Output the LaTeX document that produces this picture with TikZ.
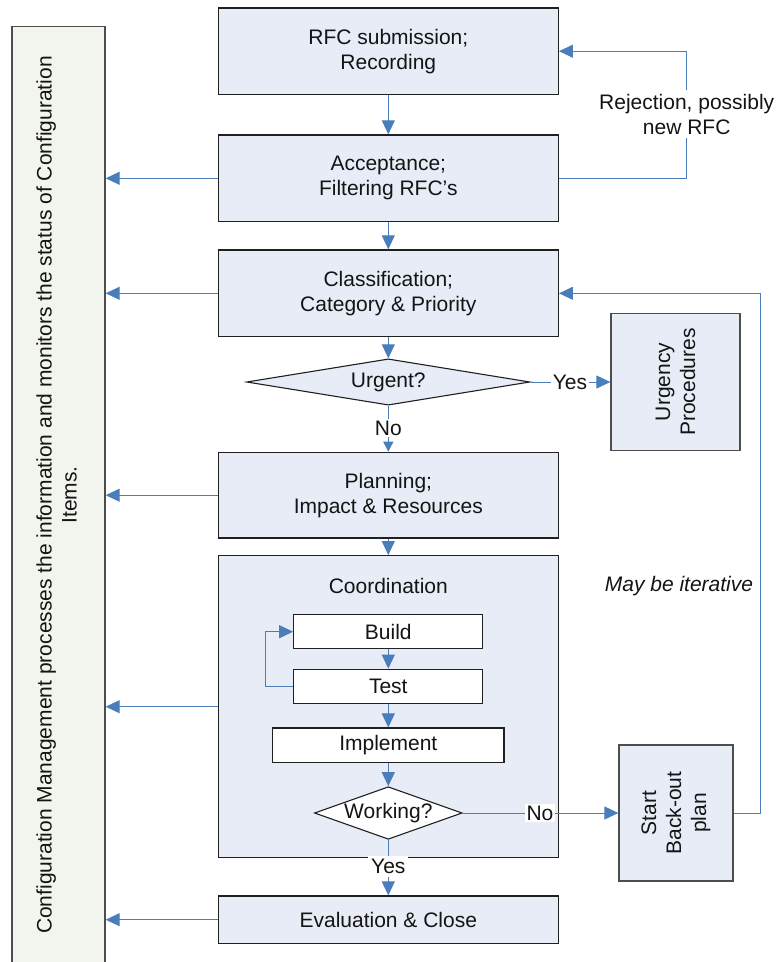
\documentclass[tikz,border=0pt]{standalone}
\usepackage{fontspec}
\setmainfont{Liberation Sans}
\usetikzlibrary{shapes.geometric,arrows.meta}
\definecolor{boxfill}{HTML}{E7ECF7}
\definecolor{panelfill}{HTML}{F2F4EE}
\definecolor{flow}{HTML}{4A7EBB}
\definecolor{edge}{HTML}{202020}
\definecolor{softedge}{HTML}{4D4D4D}
\definecolor{ink}{HTML}{141414}

\begin{document}
\begin{tikzpicture}[x=1pt,y=-1pt,
  txt/.style={font=\fontsize{21}{25}\selectfont, text=ink},
  stepbox/.style={txt, rectangle, draw=edge, line width=1.3pt, fill=boxfill, inner sep=0pt, align=center},
  subbox/.style={stepbox, fill=white},
  sidebox/.style={stepbox, draw=softedge},
  decision/.style={txt, diamond, draw=edge, line width=1.1pt, fill=boxfill, inner sep=0pt},
  flowline/.style={draw=flow, line width=1pt},
  flowarr/.style={flowline, -{Triangle[length=14pt,width=13pt]}},
  smallarr/.style={flowline, -{Triangle[length=10pt,width=10pt]}},
  tag/.style={txt, fill=white, inner sep=1.5pt},
]
\clip (0,0) rectangle (777,962);

% left panel: configuration management
\node[rectangle, draw=softedge, line width=1.3pt, fill=panelfill,
      minimum width=93pt, minimum height=960pt, inner sep=0pt] (cm) at (58.5,506.7) {};
\node[txt, rotate=90, align=center] (cmtext) at (56.5,495)
  {Configuration Management processes the information and monitors the status of Configuration\\Items.};

% main process steps
\node[stepbox, minimum width=340pt, minimum height=86.3pt] (rfc) at (388.3,51.2) {RFC submission;\\Recording};
\node[stepbox, minimum width=340pt, minimum height=86.7pt] (acc) at (388.3,178.3) {Acceptance;\\Filtering RFC’s};
\node[stepbox, minimum width=340pt, minimum height=86.7pt] (cls) at (388.3,293.3) {Classification;\\Category \& Priority};
\node[decision, aspect=6, minimum width=283.3pt, minimum height=46.3pt] (urg) at (388.3,382) {Urgent?};
\node[sidebox, minimum width=129pt, minimum height=137.4pt] (urgproc) at (675.5,382) {};
\node[txt, rotate=90, align=center] (urgtext) at (675.5,382) {Urgency\\Procedures};
\node[stepbox, minimum width=340pt, minimum height=85.7pt] (plan) at (388.3,495.2) {Planning;\\Impact \& Resources};

% coordination block with its inner loop
\node[stepbox, minimum width=340pt, minimum height=302pt] (coord) at (388.3,706.7) {};
\node[txt] (coordtitle) at (388.3,585.7) {Coordination};
\node[subbox, minimum width=189pt, minimum height=34pt] (build) at (388.3,631.7) {Build};
\node[subbox, minimum width=189pt, minimum height=34pt] (test) at (388.3,686.3) {Test};
\node[subbox, minimum width=231.3pt, minimum height=34.3pt] (impl) at (388.3,745.2) {Implement};
\node[decision, fill=white, aspect=2.8, minimum width=147.7pt, minimum height=52.6pt] (work) at (388.3,813) {Working?};

\node[sidebox, minimum width=114pt, minimum height=136pt] (backout) at (676,813) {};
\node[txt, rotate=90, align=center] (backtext) at (676,813) {Start\\Back-out\\plan};
\node[stepbox, minimum width=340pt, minimum height=47.3pt] (eval) at (388.3,919.7) {Evaluation \& Close};

% bend points of the feedback loops
\coordinate (rejcorner) at (686.7,51.2);
\coordinate (itercorner) at (760.7,293.3);
\coordinate (loopcorner) at (265.3,631.7);

% main flow
\draw[flowarr] (rfc) -- (acc);
\draw[flowarr] (acc) -- (cls);
\draw[flowarr] (cls) -- (urg);
\draw[smallarr] (urg) -- (plan);
\draw[flowarr] (urg) -- (urgproc);
\draw[flowarr] (plan) -- (coord);
\draw[flowarr] (build) -- (test);
\draw[flowarr] (test) -- (impl);
\draw[flowarr] (impl) -- (work);
\draw[flowarr] (work) -- (backout);
\draw[flowarr] (work) -- (eval);

% feedback loops
\draw[flowarr] (test.west) -| (loopcorner) -- (build.west);
\draw[flowarr] (acc.east) -| (rejcorner) -- (rfc.east);
\draw[flowarr] (backout.east) -| (itercorner) -- (cls.east);

% status reporting to configuration management
\draw[flowarr] (acc.west) -- (acc.west -| cm.east);
\draw[flowarr] (cls.west) -- (cls.west -| cm.east);
\draw[flowarr] (plan.west) -- (plan.west -| cm.east);
\draw[flowarr] (coord.west) -- (coord.west -| cm.east);
\draw[flowarr] (eval.west) -- (eval.west -| cm.east);

% labels on connectors
\node[txt, fill=white, inner sep=4pt, align=center] (rej) at (686.7,114.2) {Rejection, possibly\\new RFC};
\node[tag] (urgyes) at (570,382) {Yes};
\node[tag] (urgno) at (388.3,428.3) {No};
\node[tag] (workno) at (540,813) {No};
\node[tag, inner sep=3pt] (workyes) at (388.3,866.7) {Yes};
\node[txt, font=\fontsize{21}{25}\selectfont\itshape] (iter) at (679,586) {May be iterative};
\end{tikzpicture}
\end{document}
